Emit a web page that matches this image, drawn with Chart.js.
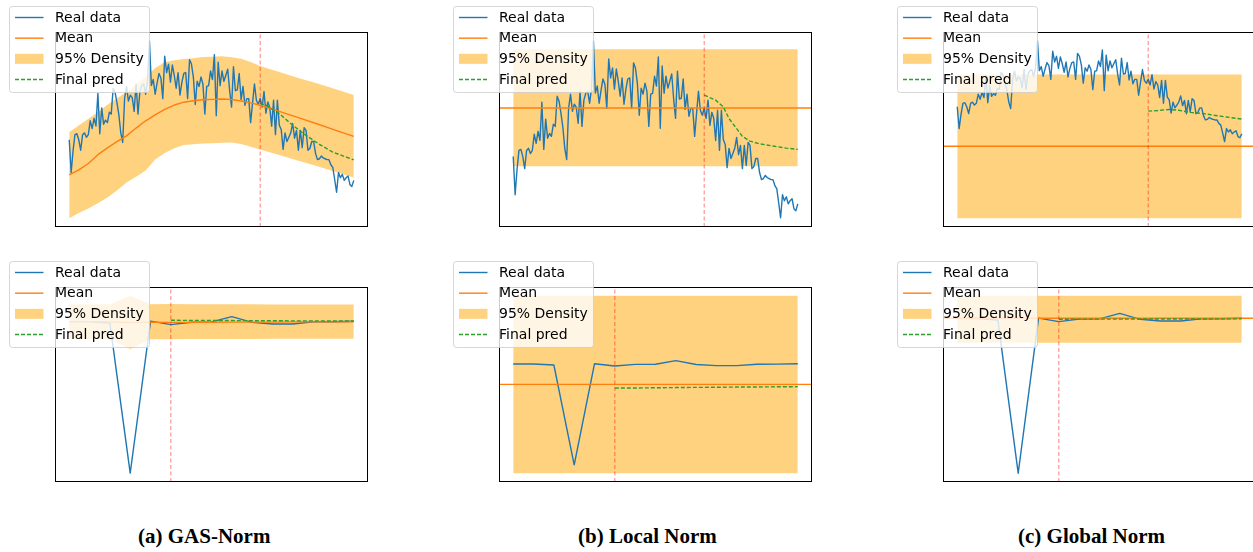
<!DOCTYPE html>
<html>
<head>
<meta charset="utf-8">
<script src="https://cdn.jsdelivr.net/npm/chart.js@4.4.0/dist/chart.umd.min.js"></script>
<style>
  html, body { margin: 0; padding: 0; background: #fff; overflow: hidden; width: 1253px; height: 552px; }
  canvas { position: absolute; }
  .cap { position: absolute; top: 526px; font: bold 21px "Liberation Serif", serif; line-height: 21px; color: #000; white-space: nowrap; }
</style>
</head>
<body>
<canvas id="topA" width="380" height="250" style="left:0;top:0"></canvas>
<canvas id="topB" width="380" height="250" style="left:440px;top:0"></canvas>
<canvas id="topC" width="380" height="250" style="left:880px;top:0"></canvas>
<canvas id="botA" width="380" height="250" style="left:0;top:255px"></canvas>
<canvas id="botB" width="380" height="250" style="left:440px;top:255px"></canvas>
<canvas id="botC" width="380" height="250" style="left:880px;top:255px"></canvas>
<div class="cap" style="left:138px">(a) GAS-Norm</div>
<div class="cap" style="left:578px">(b) Local Norm</div>
<div class="cap" style="left:1018px">(c) Global Norm</div>
<script>
// ---- top row: long series (150 steps, forecast starts at step 100) ----
const realTop = [
  44.2, 25.7, 37.9, 47.1, 47.6, 44.2, 38.3, 47.1, 48.1, 45.6,
  47.1, 54.9, 50.5, 56.3, 52.0, 70.4, 47.6, 62.2, 53.0, 55.3,
  53.9, 59.7, 58.7, 73.3, 70.9, 65.0, 58.2, 48.1, 42.7, 67.5,
  74.3, 66.0, 69.4, 68.0, 60.2, 75.7, 58.7, 71.4, 74.8, 75.7,
  69.9, 77.2, 100.0, 74.8, 78.2, 69.9, 76.2, 81.6, 79.1, 67.4,
  91.3, 82.1, 86.9, 76.7, 86.4, 80.6, 73.3, 82.1, 69.4, 76.7,
  81.6, 82.1, 67.4, 89.4, 86.9, 79.6, 64.1, 77.2, 74.3, 79.6,
  75.7, 58.7, 74.3, 74.7, 83.0, 78.2, 92.2, 57.8, 87.9, 74.7,
  83.0, 77.2, 80.6, 84.0, 71.9, 62.6, 85.4, 71.9, 72.3, 81.6,
  66.9, 74.3, 63.6, 67.4, 67.4, 53.9, 65.0, 75.7, 66.5, 64.1,
  67.5, 62.6, 71.4, 59.2, 65.5, 62.6, 51.9, 66.5, 47.1, 66.5,
  52.4, 50.0, 38.8, 48.1, 43.2, 45.6, 48.1, 53.4, 45.1, 49.5,
  38.3, 49.5, 39.8, 51.0, 49.5, 38.3, 39.3, 43.2, 43.2, 36.4,
  33.0, 33.5, 35.0, 34.0, 33.5, 33.0, 33.0, 30.1, 28.6, 21.8,
  14.6, 25.7, 22.8, 24.7, 21.3, 22.8, 23.8, 18.9, 17.9, 21.3
];
const splitTop = 100;

// GAS-Norm: time-varying mean and 95% band
const gasX     = [0, 5, 10, 15, 20, 25, 30, 35, 40, 45, 50, 55, 60, 65, 70, 75, 80, 85, 90, 95, 100, 110, 120, 130, 140, 149];
const gasMean  = [24.4, 27.2, 30.8, 35.8, 39.6, 43.2, 46.4, 50.8, 54.9, 58.3, 61.4, 63.8, 65.4, 66.2, 66.8, 67.0, 67.2, 66.9, 66.1, 65.0, 63.7, 60.2, 56.7, 53.1, 49.4, 46.1];
const gasUpper = [48.6, 52.3, 56.1, 59.8, 63.9, 67.6, 71.2, 75.3, 79.6, 84.7, 87.9, 89.1, 89.8, 90.2, 90.9, 91.1, 91.3, 90.8, 89.9, 88.1, 85.8, 82.4, 79.1, 75.9, 72.6, 69.4];
const gasLower = [0.0, 2.9, 5.4, 8.4, 11.6, 15.6, 20.1, 23.4, 26.9, 33.1, 36.7, 39.4, 41.2, 41.7, 42.1, 42.3, 42.5, 42.6, 41.8, 40.3, 38.7, 35.6, 32.4, 29.2, 25.9, 22.9];
const gasPredX = [100, 103, 110, 117, 124, 131, 138, 149];
const gasPred  = [64.7, 63.7, 59.0, 52.4, 46.7, 41.6, 37.2, 32.9];

// Local Norm: constant mean and band
const localBand  = [96.0, 39.5];
const localMean  = 67.6;
const localPredX = [100, 106, 110, 113, 117, 120, 124, 129, 136, 143, 149];
const localPred  = [73.8, 71.4, 68.1, 62.5, 57.6, 53.9, 51.6, 50.3, 49.2, 48.2, 47.6];

// Global Norm: constant mean and band
const globalBand  = [71.4, -50.2];
const globalMean  = 10.7;
const globalPredX = [100, 105, 111, 116, 122, 128, 134, 141, 149];
const globalPred  = [40.5, 41.0, 41.9, 41.2, 39.4, 38.6, 37.1, 35.5, 33.7];

// ---- bottom row: short series (15 steps, forecast starts at step 5) ----
const realBot  = [100.0, 100.0, 99.0, 0.0, 100.3, 98.0, 99.6, 99.8, 103.3, 99.5, 98.4, 98.4, 99.8, 99.9, 100.2];
const splitBot = 5;
const gasBotMean  = [100.0, 100.0, 99.8, 99.4, 99.6, 99.5, 99.5, 99.6, 99.7, 99.7, 99.7, 99.8, 99.8, 99.8, 99.9];
const gasBotUpper = [111.4, 111.4, 111.5, 117.0, 111.5, 111.6, 111.5, 111.5, 111.4, 111.4, 111.3, 111.3, 111.3, 111.3, 111.3];
const gasBotLower = [88.6, 88.6, 88.4, 81.9, 88.3, 88.4, 88.5, 88.5, 88.6, 88.6, 88.7, 88.7, 88.7, 88.7, 88.7];
const gasBotPred  = [100.9, 100.8, 100.8, 100.7, 100.6, 100.6, 100.5, 100.5, 100.4, 100.4];
const localBotBand  = [167.6, -8.3];
const localBotMean  = 79.8;
const localBotPred  = [76.1, 76.2, 76.4, 76.6, 76.8, 76.9, 77.1, 77.2, 77.4, 77.5];
const globalBotBand = [114.7, 84.4];
const globalBotMean = 100.2;
const globalBotPred = [99.5, 99.6, 99.6, 99.6, 99.7, 99.7, 99.7, 99.7, 99.8, 99.8];

const BLUE = '#1f77b4', ORANGE = '#ff7f0e', GREEN = '#2ca02c';
const BAND = 'rgba(255, 165, 0, 0.5)', VLINE = 'rgba(255, 0, 0, 0.5)';

const pts = (xs, ys) => ys.map((y, k) => ({ x: xs[k], y: y }));
const steps = (from, n) => Array.from({ length: n }, (_, k) => from + k);

// axes frame
const framePlugin = {
  id: 'frame',
  afterDatasetsDraw(chart) {
    const { ctx, chartArea: a } = chart;
    ctx.save();
    ctx.strokeStyle = '#000';
    ctx.lineWidth = 1;
    ctx.strokeRect(Math.round(a.left) + 0.5, Math.round(a.top) + 0.5,
      Math.round(a.right - a.left) - 1, Math.round(a.bottom - a.top) - 1);
    ctx.restore();
  }
};

// matplotlib-like legend in the upper-left corner
const legendPlugin = {
  id: 'mplLegend',
  afterDraw(chart) {
    const { ctx, chartArea: a } = chart;
    const L = Math.round(a.left - 46) + 0.5, T = Math.round(a.top - 26) + 0.5, W = 140, H = 86, r = 3;
    ctx.save();
    ctx.beginPath();
    ctx.moveTo(L + r, T);
    ctx.arcTo(L + W, T, L + W, T + H, r);
    ctx.arcTo(L + W, T + H, L, T + H, r);
    ctx.arcTo(L, T + H, L, T, r);
    ctx.arcTo(L, T, L + W, T, r);
    ctx.closePath();
    ctx.fillStyle = 'rgba(255, 255, 255, 0.8)';
    ctx.fill();
    ctx.strokeStyle = 'rgba(204, 204, 204, 0.8)';
    ctx.lineWidth = 1;
    ctx.stroke();

    const items = [
      { label: 'Real data', color: BLUE, kind: 'line' },
      { label: 'Mean', color: ORANGE, kind: 'line' },
      { label: '95% Density', color: BAND, kind: 'patch' },
      { label: 'Final pred', color: GREEN, kind: 'dash' }
    ];
    ctx.font = '14px "DejaVu Sans"';
    ctx.textBaseline = 'middle';
    items.forEach((it, k) => {
      const cy = T + 11 + k * 20.67;
      const hx0 = L + 5.5, hx1 = L + 34;
      if (it.kind === 'patch') {
        ctx.fillStyle = it.color;
        ctx.fillRect(hx0, cy - 5, hx1 - hx0, 10);
      } else {
        ctx.beginPath();
        ctx.setLineDash(it.kind === 'dash' ? [4, 2] : []);
        ctx.strokeStyle = it.color;
        ctx.lineWidth = 1.4;
        ctx.moveTo(hx0, cy);
        ctx.lineTo(hx1, cy);
        ctx.stroke();
        ctx.setLineDash([]);
      }
      ctx.fillStyle = '#000';
      ctx.fillText(it.label, L + 45.5, cy + 0.5);
    });
    ctx.restore();
  }
};

function makePanel(id, p) {
  const xMin = -0.05 * p.last, xMax = p.last * 1.05;
  const lineDs = (data, color, order, dash) => ({
    data: data, borderColor: color, borderWidth: 1.4, borderDash: dash || [],
    pointRadius: 0, tension: 0, fill: false, order: order, borderJoinStyle: 'round'
  });
  const meanData = p.meanFull
    ? [{ x: xMin, y: p.mean }, { x: xMax, y: p.mean }]
    : p.mean;
  // higher order is drawn first (further back)
  const datasets = [
    lineDs(p.real, BLUE, 5),
    lineDs(meanData, ORANGE, 4),
    { data: p.upper, borderWidth: 0, pointRadius: 0, backgroundColor: BAND, fill: '+1', order: 7, tension: 0 },
    { data: p.lower, borderWidth: 0, pointRadius: 0, backgroundColor: BAND, fill: false, order: 6, tension: 0 },
    lineDs(p.pred, GREEN, 3, [4, 2]),
    Object.assign(lineDs([{ x: p.split, y: p.yMin }, { x: p.split, y: p.yMax }], VLINE, 2, [4, 2.5]), { borderWidth: 1 })
  ];
  return new Chart(document.getElementById(id), {
    type: 'line',
    data: { datasets: datasets },
    options: {
      responsive: false,
      devicePixelRatio: 1,
      animation: false,
      events: [],
      layout: { padding: p.pad },
      plugins: { legend: { display: false }, tooltip: { enabled: false } },
      scales: {
        x: { type: 'linear', display: false, min: xMin, max: xMax },
        y: { type: 'linear', display: false, min: p.yMin, max: p.yMax }
      }
    },
    plugins: [framePlugin, legendPlugin]
  });
}

const padTop = { top: 32, bottom: 23 };
const padA = Object.assign({ left: 55, right: 12 }, padTop);
const padB = Object.assign({ left: 59, right: 8 }, padTop);
const padC = Object.assign({ left: 63, right: 4 }, padTop);

const xTop = steps(0, realTop.length);
const lastTop = realTop.length - 1;
const realTopPts = pts(xTop, realTop);

makePanel('topA', {
  last: lastTop, split: splitTop, yMin: -5, yMax: 105, pad: padA,
  real: realTopPts, mean: pts(gasX, gasMean),
  upper: pts(gasX, gasUpper), lower: pts(gasX, gasLower),
  pred: pts(gasPredX, gasPred)
});
makePanel('topB', {
  last: lastTop, split: splitTop, yMin: 10.1, yMax: 104.3, pad: padB,
  real: realTopPts, mean: localMean, meanFull: true,
  upper: [{ x: 0, y: localBand[0] }, { x: lastTop, y: localBand[0] }],
  lower: [{ x: 0, y: localBand[1] }, { x: lastTop, y: localBand[1] }],
  pred: pts(localPredX, localPred)
});
makePanel('topC', {
  last: lastTop, split: splitTop, yMin: -57.7, yMax: 107.5, pad: padC,
  real: realTopPts, mean: globalMean, meanFull: true,
  upper: [{ x: 0, y: globalBand[0] }, { x: lastTop, y: globalBand[0] }],
  lower: [{ x: 0, y: globalBand[1] }, { x: lastTop, y: globalBand[1] }],
  pred: pts(globalPredX, globalPred)
});

const xBot = steps(0, realBot.length);
const lastBot = realBot.length - 1;
const realBotPts = pts(xBot, realBot);
const xPredBot = steps(splitBot, gasBotPred.length);

makePanel('botA', {
  last: lastBot, split: splitBot, yMin: -5.85, yMax: 122.85, pad: padA,
  real: realBotPts, mean: pts(xBot, gasBotMean),
  upper: pts(xBot, gasBotUpper), lower: pts(xBot, gasBotLower),
  pred: pts(xPredBot, gasBotPred)
});
makePanel('botB', {
  last: lastBot, split: splitBot, yMin: -17.1, yMax: 176.4, pad: padB,
  real: realBotPts, mean: localBotMean, meanFull: true,
  upper: [{ x: 0, y: localBotBand[0] }, { x: lastBot, y: localBotBand[0] }],
  lower: [{ x: 0, y: localBotBand[1] }, { x: lastBot, y: localBotBand[1] }],
  pred: pts(xPredBot, localBotPred)
});
makePanel('botC', {
  last: lastBot, split: splitBot, yMin: -5.7, yMax: 120.4, pad: padC,
  real: realBotPts, mean: globalBotMean, meanFull: true,
  upper: [{ x: 0, y: globalBotBand[0] }, { x: lastBot, y: globalBotBand[0] }],
  lower: [{ x: 0, y: globalBotBand[1] }, { x: lastBot, y: globalBotBand[1] }],
  pred: pts(xPredBot, globalBotPred)
});
</script>
</body>
</html>
